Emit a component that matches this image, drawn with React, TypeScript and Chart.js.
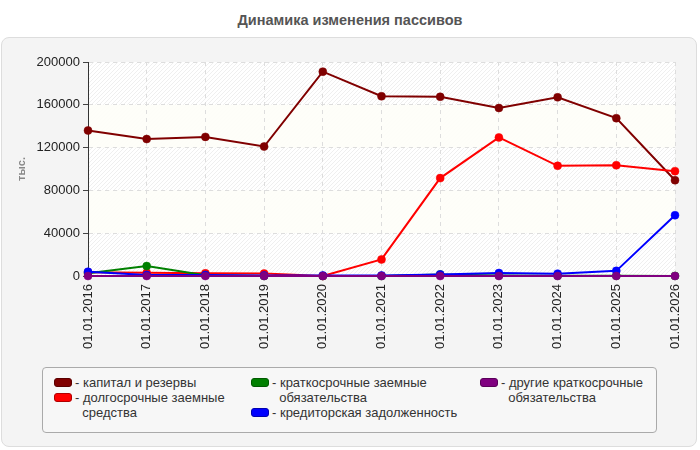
import React, { useEffect, useRef } from "react";
import { Chart, registerables } from "chart.js";

Chart.register(...registerables);

const TITLE = "Динамика изменения пассивов";
const Y_TITLE = "тыс.";

const categories = [
  "01.01.2016", "01.01.2017", "01.01.2018", "01.01.2019", "01.01.2020", "01.01.2021",
  "01.01.2022", "01.01.2023", "01.01.2024", "01.01.2025", "01.01.2026",
];

const capital = [136000, 128000, 130000, 121000, 191000, 168000, 167500, 157000, 167000, 147500, 89500];
const longTerm = [3500, 3000, 2500, 2300, 0, 15500, 91500, 129500, 103000, 103500, 98000];
const shortTerm = [2500, 9300, 800, 0, 0, 0, 1500, 500, 300, 200, 100];
const creditor = [4000, 1000, 900, 500, 500, 500, 1500, 2800, 2200, 4800, 56800];
const other = [0, 0, 0, 0, 0, 0, 0, 0, 0, 0, 0];

const yTicks = [0, 40000, 80000, 120000, 160000, 200000];

const seriesNames = [
  "капитал и резервы",
  "долгосрочные заемные\nсредства",
  "краткосрочные заемные\nобязательства",
  "кредиторская задолженность",
  "другие краткосрочные\nобязательства",
];
const seriesColors = ["#800000", "#ff0000", "#008000", "#0000ff", "#800080"];
const seriesBorders = ["#5a0000", "#b00000", "#005a00", "#0000b0", "#5a005a"];

const FONT = '"Liberation Sans", Arial, sans-serif';

const bgPlugin = {
  id: "bgBands",
  beforeDraw(chart: any) {
    const { ctx, chartArea } = chart;
    const y = chart.scales.y;
    const pc = document.createElement("canvas");
    pc.width = 4;
    pc.height = 4;
    const g = pc.getContext("2d")!;
    g.fillStyle = "#ffffff";
    g.fillRect(0, 0, 4, 4);
    g.strokeStyle = "#efefef";
    g.lineWidth = 1;
    g.beginPath();
    g.moveTo(-1, 5);
    g.lineTo(5, -1);
    g.stroke();
    const pattern = ctx.createPattern(pc, "repeat");
    ctx.save();
    ctx.fillStyle = pattern;
    ctx.fillRect(chartArea.left, chartArea.top, chartArea.right - chartArea.left, chartArea.bottom - chartArea.top);
    for (let i = 0; i < yTicks.length - 1; i++) {
      if (i % 2 === 1) {
        const y1 = y.getPixelForValue(yTicks[i]);
        const y2 = y.getPixelForValue(yTicks[i + 1]);
        ctx.fillStyle = "rgba(254,254,248,0.9)";
        ctx.fillRect(chartArea.left, y2, chartArea.right - chartArea.left, y1 - y2);
      }
    }
    ctx.restore();
  },
};

export default function App() {
  const ref = useRef<HTMLCanvasElement | null>(null);

  useEffect(() => {
    if (!ref.current) return;
    const datas = [capital, longTerm, shortTerm, creditor, other];
    const chart = new Chart(ref.current, {
      type: "line",
      data: {
        labels: categories,
        datasets: datas.map((d, i) => ({
          label: seriesNames[i],
          data: d,
          borderColor: seriesColors[i],
          backgroundColor: seriesColors[i],
          pointBackgroundColor: seriesColors[i],
          pointBorderColor: seriesColors[i],
          borderWidth: 2,
          pointRadius: 4,
          pointBorderWidth: 0.5,
          tension: 0,
          fill: false,
          clip: 8,
          order: 5 - i,
        })),
      },
      options: {
        animation: false,
        responsive: false,
        maintainAspectRatio: false,
        layout: { padding: { left: 0, top: 62, right: 25, bottom: 84 } },
        plugins: {
          legend: { display: false },
          title: { display: false },
          tooltip: { enabled: false },
        },
        scales: {
          x: {
            type: "category",
            offset: false,
            grid: { color: "#dddddd", drawTicks: false, lineWidth: 1 },
            border: { color: "#333333", dash: [4, 4], width: 1 },
            ticks: {
              minRotation: 90,
              maxRotation: 90,
              autoSkip: false,
              padding: 8,
              color: "#222222",
              font: { family: FONT, size: 13 },
            },
            afterFit: (s: any) => {
              s.height = 90;
            },
          },
          y: {
            min: 0,
            max: 200000,
            afterBuildTicks: (s: any) => {
              s.ticks = yTicks.map((v) => ({ value: v }));
            },
            grid: { color: "#dddddd", drawTicks: true, tickLength: 5, tickColor: "#444444", lineWidth: 1 },
            border: { color: "#333333", dash: [4, 4], width: 1 },
            ticks: {
              padding: 3,
              color: "#222222",
              font: { family: FONT, size: 13 },
              callback: (v: any) => String(v),
            },
            title: {
              display: true,
              text: Y_TITLE,
              color: "#888888",
              font: { family: FONT, size: 11, weight: "bold" },
              padding: { top: 15, bottom: 0 },
            },
            afterFit: (s: any) => {
              s.width = 88;
            },
          },
        },
      },
      plugins: [bgPlugin],
    } as any);
    return () => chart.destroy();
  }, []);

  const items = [
    { i: 0, left: 11, top: 0 },
    { i: 1, left: 11, top: 15 },
    { i: 2, left: 208, top: 0 },
    { i: 3, left: 208, top: 30 },
    { i: 4, left: 437, top: 0 },
  ];

  return (
    <div
      style={{
        position: "fixed",
        left: 0,
        top: 0,
        width: 700,
        height: 450,
        background: "#ffffff",
        fontFamily: FONT,
        overflow: "hidden",
      }}
    >
      <div
        style={{
          position: "absolute",
          left: 0,
          top: 12,
          width: 700,
          textAlign: "center",
          fontWeight: "bold",
          fontSize: 14.5,
          lineHeight: "17px",
          color: "#555555",
        }}
      >
        {TITLE}
      </div>
      <div
        style={{
          position: "absolute",
          left: 1,
          top: 37,
          width: 696,
          height: 410,
          boxSizing: "border-box",
          background: "#f4f4f4",
          border: "1px solid #dddddd",
          borderRadius: 8,
        }}
      />
      <canvas ref={ref} width={700} height={450} style={{ position: "absolute", left: 0, top: 0 }} />
      <div
        style={{
          position: "absolute",
          left: 42,
          top: 367,
          width: 615,
          height: 66,
          boxSizing: "border-box",
          background: "#f7f7f7",
          border: "1px solid #aaaaaa",
          borderRadius: 4,
        }}
      >
        {items.map((it) => (
          <div
            key={it.i}
            style={{
              position: "absolute",
              left: it.left,
              top: 7 + it.top,
              display: "flex",
              alignItems: "flex-start",
            }}
          >
            <div
              style={{
                width: 18,
                height: 9,
                marginTop: 3,
                boxSizing: "border-box",
                background: seriesColors[it.i],
                border: "1px solid " + seriesBorders[it.i],
                borderRadius: 3,
                flex: "none",
              }}
            />
            <div
              style={{
                marginLeft: 3,
                fontSize: 13,
                lineHeight: "15px",
                color: "#333333",
                whiteSpace: "pre",
              }}
            >
              {"- " + seriesNames[it.i].split("\n")[0]}
              {seriesNames[it.i].includes("\n") ? "\n  " + seriesNames[it.i].split("\n")[1] : ""}
            </div>
          </div>
        ))}
      </div>
    </div>
  );
}
